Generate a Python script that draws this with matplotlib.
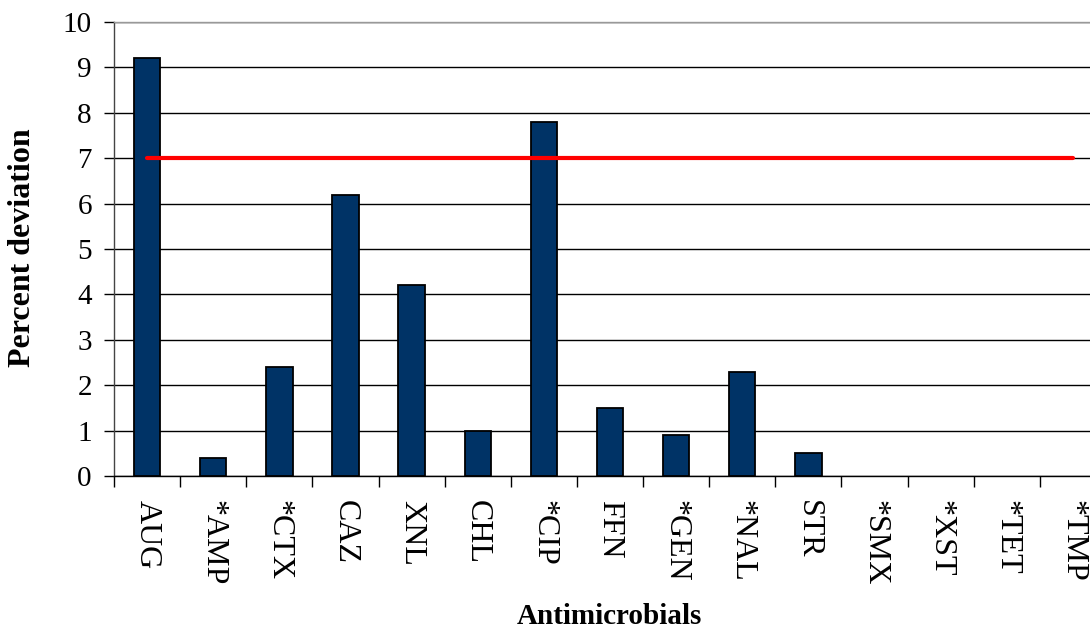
import matplotlib
matplotlib.use("Agg")
import matplotlib.pyplot as plt
import numpy as np

plt.rcParams['font.family'] = ['Liberation Serif', 'DejaVu Serif']

# Antimicrobial agents and their percent deviation
antimicrobials = ["AUG", "*AMP", "*CTX", "CAZ", "XNL", "CHL", "*CIP", "FFN",
                  "*GEN", "*NAL", "STR", "*SMX", "*XST", "*TET", "*TMP"]
percent_deviation = [9.2, 0.4, 2.4, 6.2, 4.2, 1.0, 7.8, 1.5,
                     0.9, 2.3, 0.5, 0.0, 0.0, 0.0, 0.0]
threshold = 7

W, H = 1090, 630
fig = plt.figure(figsize=(W / 100, H / 100), dpi=100)
left, right, bottom, top = 114, 1106, 476, 22
ax = fig.add_axes([left / W, (H - bottom) / H, (right - left) / W, (bottom - top) / H])

x = np.arange(len(antimicrobials))
edge_widths = [1.3 if v > 0 else 0 for v in percent_deviation]
ax.bar(x, percent_deviation, width=0.4, color="#003366", edgecolor="black",
       linewidth=edge_widths, zorder=3)
ax.plot([x[0], x[-1]], [threshold, threshold], color="#ff0000", linewidth=3,
        solid_capstyle="round", zorder=4)

ax.set_xlim(-0.5, len(antimicrobials) - 0.5)
ax.set_ylim(0, 10)
ax.set_yticks(range(0, 11))
ax.yaxis.grid(True, color="black", linewidth=1.0, zorder=0)
ax.set_axisbelow(True)

ax.set_xticks(x)
ax.set_xticklabels(antimicrobials, rotation=-90, fontsize=23)
ax.set_xticks(np.arange(-0.5, len(antimicrobials), 1.0), minor=True)
ax.tick_params(axis="x", which="major", length=0, pad=17)
ax.tick_params(axis="x", which="minor", length=8, width=1.0, direction="out")
ax.tick_params(axis="y", length=7, width=1.0, direction="out", pad=9, labelsize=21)

ax.spines["right"].set_visible(False)
ax.spines["top"].set_color("#999999")
ax.spines["left"].set_color("#444444")
ax.spines["bottom"].set_color("black")
for s in ax.spines.values():
    s.set_linewidth(1.0)

fig.text(23 / W, 1 - 248 / H, "Percent deviation", rotation=90, fontsize=23,
         fontweight="bold", ha="center", va="center")
fig.text(609 / W, 1 - 617 / H, "Antimicrobials", fontsize=21,
         fontweight="bold", ha="center", va="center")

fig.savefig("out.png", dpi=100, facecolor="white")
